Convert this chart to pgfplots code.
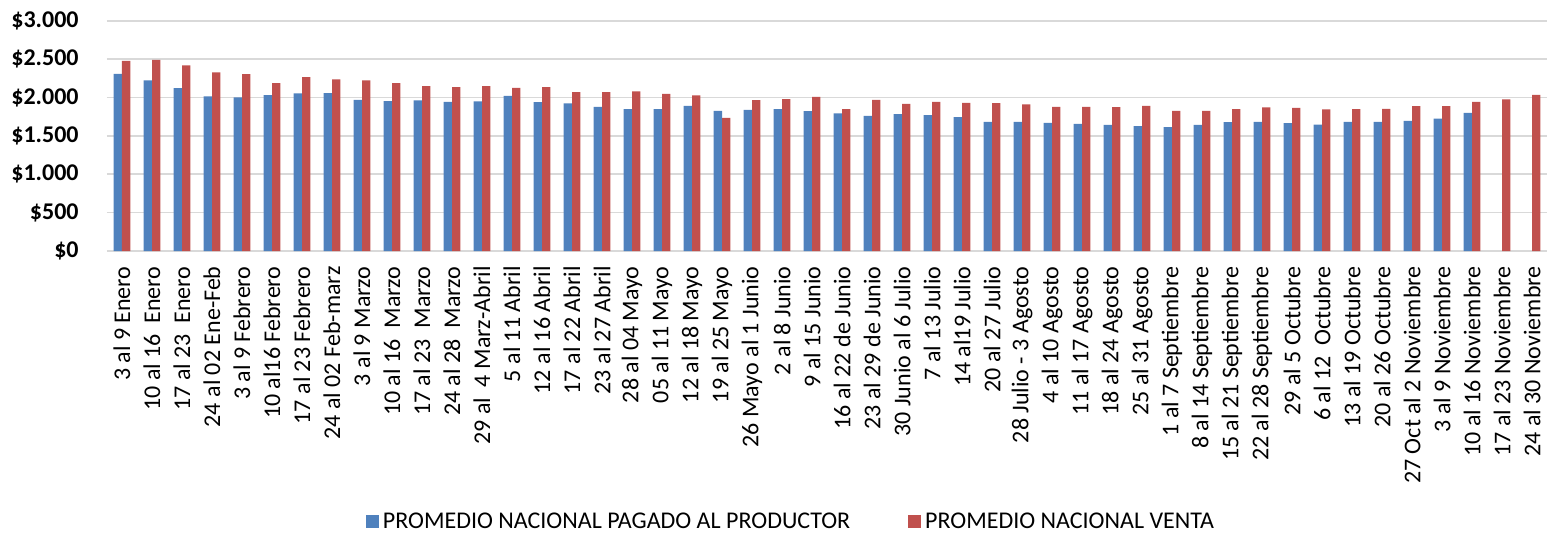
\documentclass[border=0pt]{standalone}
\usepackage{fontspec}
\setmainfont{Carlito}
\usepackage{pgfplots}
\pgfplotsset{compat=1.18}
\definecolor{cblue}{HTML}{4F81BD}
\definecolor{cred}{HTML}{C0504D}
\definecolor{cgrid}{HTML}{D9D9D9}
\begin{document}
\begin{tikzpicture}
\begin{axis}[
  scale only axis, width=720pt, height=115.15pt,
  xmin=-0.5, xmax=47.5, ymin=0, ymax=3000,
  ybar=0pt, bar width=4.17pt,
  axis line style={draw=none},
  major tick length=0pt,
  ymajorgrids, grid style={cgrid, line width=0.8pt},
  xtick={0,...,47},
  xticklabels={3 al 9 Enero,10 al 16~ Enero,17 al 23~ Enero,24 al 02 Ene-Feb,3 al 9 Febrero,10 al16 Febrero,17 al 23 Febrero,24 al 02 Feb-marz,3 al 9 Marzo,10 al 16~ Marzo,17 al 23~ Marzo,24 al 28~ Marzo,29 al~ 4 Marz-Abril,5 al 11 Abril,12 al 16 Abril,17 al 22 Abril,23 al 27 Abril,28 al 04 Mayo,05 al 11 Mayo,12 al 18 Mayo,19 al 25 Mayo,26 Mayo al 1 Junio,2 al 8 Junio,9 al 15 Junio,16 al 22 de Junio,23 al 29 de Junio,30 Junio al 6 Julio,7 al 13 Julio,14 al19 Julio,20 al 27 Julio,28 Julio - 3 Agosto,4 al 10 Agosto,11 al 17 Agosto,18 al 24 Agosto,25 al 31 Agosto,1 al 7 Septiembre,8 al 14 Septiembre,15 al 21 Septiembre,22 al 28 Septiembre,29 al 5 Octubre,6 al 12~ Octubre,13 al 19 Octubre,20 al 26 Octubre,27 Oct al 2 Noviembre,3 al 9 Noviembre,10 al 16 Noviembre,17 al 23 Noviembre,24 al 30 Noviembre},
  ytick={0,500,1000,1500,2000,2500,3000},
  yticklabels={\$0,\$500,\$1.000,\$1.500,\$2.000,\$2.500,\$3.000},
  yticklabel style={font=\fontsize{12}{14}\selectfont\bfseries, anchor=east, inner sep=0pt},
  yticklabel shift=14pt,
  xticklabel style={font=\fontsize{12}{14}\selectfont, rotate=90, anchor=east, inner sep=0pt},
  xticklabel shift=7.5pt,
  legend columns=2,
  legend style={draw=none, fill=none, font=\fontsize{12}{14}\selectfont,
    at={(0.4757,-1.1767)}, anchor=center,
    /tikz/every even column/.append style={column sep=27pt}},
  legend image code/.code={\fill[#1] (0pt,-3.25pt) rectangle (6.5pt,3.25pt);},
]
\coordinate (O) at (rel axis cs:0,0);
\addplot[fill=cblue, draw=none] coordinates {
(0,2309) (1,2222) (2,2122) (3,2013) (4,2000) (5,2031) (6,2052) (7,2057)
(8,1970) (9,1953) (10,1961) (11,1944) (12,1948) (13,2022) (14,1940) (15,1922)
(16,1879) (17,1848) (18,1848) (19,1892) (20,1827) (21,1840) (22,1848) (23,1822)
(24,1792) (25,1761) (26,1783) (27,1770) (28,1744) (29,1683) (30,1683) (31,1670)
(32,1657) (33,1644) (34,1627) (35,1614) (36,1644) (37,1679) (38,1683) (39,1666)
(40,1648) (41,1683) (42,1683) (43,1696) (44,1726) (45,1800)
};
\addplot[fill=cred, draw=none] coordinates {
(0,2478) (1,2491) (2,2417) (3,2326) (4,2305) (5,2187) (6,2266) (7,2235)
(8,2222) (9,2187) (10,2148) (11,2135) (12,2148) (13,2126) (14,2135) (15,2070)
(16,2070) (17,2078) (18,2048) (19,2026) (20,1735) (21,1966) (22,1979) (23,2009)
(24,1848) (25,1970) (26,1918) (27,1944) (28,1931) (29,1927) (30,1909) (31,1879)
(32,1879) (33,1874) (34,1892) (35,1827) (36,1827) (37,1848) (38,1870) (39,1866)
(40,1844) (41,1848) (42,1853) (43,1888) (44,1888) (45,1944) (46,1974) (47,2035)
};
\legend{PROMEDIO NACIONAL PAGADO AL PRODUCTOR, PROMEDIO NACIONAL VENTA}
\end{axis}
\pgfresetboundingbox
\path (O) ++(-53.5pt,-140.5pt) rectangle ++(773.5pt,266pt);
\end{tikzpicture}
\end{document}
